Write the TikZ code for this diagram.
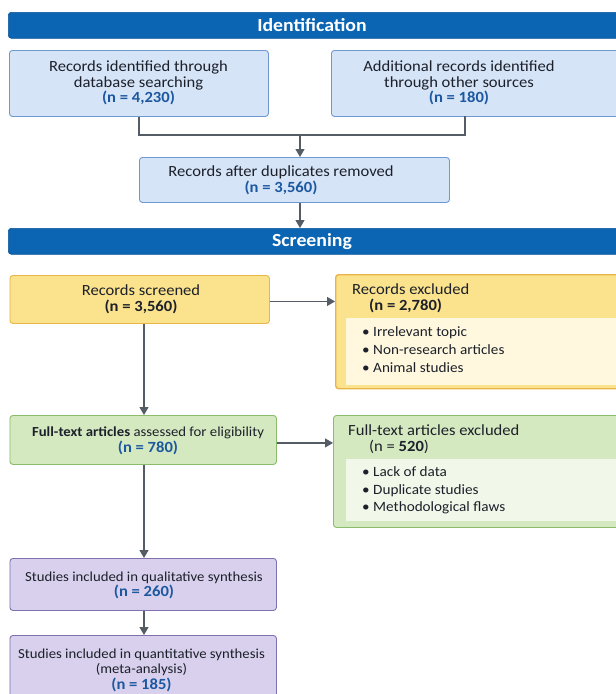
\documentclass[tikz,border=0pt]{standalone}
\usepackage{fontspec}
\setmainfont{Carlito}[FakeStretch=1.07]
\usetikzlibrary{arrows.meta,calc}
\definecolor{banc}{RGB}{12,101,178}
\definecolor{blueF}{RGB}{214,228,247}
\definecolor{blueB}{RGB}{112,152,208}
\definecolor{nblue}{RGB}{28,88,160}
\definecolor{yelF}{RGB}{251,226,140}
\definecolor{yelB}{RGB}{232,182,72}
\definecolor{yelP}{RGB}{255,248,222}
\definecolor{grnF}{RGB}{213,233,193}
\definecolor{grnB}{RGB}{138,188,108}
\definecolor{grnP}{RGB}{241,247,233}
\definecolor{purF}{RGB}{216,208,236}
\definecolor{purB}{RGB}{128,114,174}
\definecolor{arrc}{RGB}{84,92,102}
\definecolor{ink}{RGB}{28,32,42}
\newcommand{\nblu}[1]{{\color{nblue}\bfseries #1}}
\newcommand{\bign}[1]{{\fontsize{15.5}{15.5}\selectfont #1}}
\tikzset{
  boxbase/.style={rounded corners=3pt, line width=0.9pt, inner sep=0pt, anchor=north west},
  bluebox/.style={boxbase, draw=blueB, fill=blueF},
  yelbox/.style={boxbase, draw=yelB, fill=yelF},
  grnbox/.style={boxbase, draw=grnB, fill=grnF},
  purbox/.style={boxbase, draw=purB, fill=purF},
  banner/.style={boxbase, fill=banc, draw=banc!85!black, line width=0.6pt, minimum height=26pt, minimum width=640pt},
  bantxt/.style={text=white, font=\fontsize{18.5}{20}\selectfont\bfseries, inner sep=0pt},
  txt/.style={align=center, text=ink, font=\fontsize{15.5}{15.6}\selectfont, inner sep=0pt},
  stxt/.style={align=center, text=ink, font=\fontsize{13.8}{15.5}\selectfont, inner sep=0pt},
  ltxt/.style={anchor=west, text=ink, font=\fontsize{15.5}{15.6}\selectfont, inner sep=0pt, text height=1.45ex, text depth=0.3ex},
  btxt/.style={ltxt, font=\fontsize{14.2}{15}\selectfont},
  panel/.style={fill=#1, inner sep=0pt, anchor=north west},
  ln/.style={draw=arrc, line width=1.2pt},
  arr/.style={ln, -{Triangle[length=8pt,width=9pt]}},
}
\begin{document}
\begin{tikzpicture}[x=1pt,y=-1pt]
\path[use as bounding box] (0,0) rectangle (616,694);
\clip (0,0) rectangle (616,694);
\fill[white] (0,0) rectangle (616,694);

% Identification
\node[banner] (idb) at (8,12) {};
\node[bantxt] (idt) at (312,25.5) {Identification};

\node[bluebox, minimum width=259pt, minimum height=66pt] (A) at (9,50) {};
\node[txt] (At) at (138.5,83) {Records identified through\\database searching\\\nblu{(n = 4,230)}};
\node[bluebox, minimum width=310pt, minimum height=66pt] (B) at (331,50) {};
\node[txt] (Bt) at (459,83) {Additional records identified\\through other sources\\\nblu{(n = 180)}};

\coordinate (j) at (300,135);
\coordinate (Bs) at (465,116);
\draw[ln] (A.south) |- (j) -| (Bs);

\node[bluebox, minimum width=310pt, minimum height=45pt] (C) at (139,157) {};
\node[txt] (Ct) at (281,180) {Records after duplicates removed\\\nblu{(n = 3,560)}};
\draw[arr] (j) -- (j |- C.north);

% Screening
\node[banner] (scb) at (8,228) {};
\node[bantxt] (sct) at (312,241.5) {Screening};
\draw[arr] (C.south -| j) -- (j |- scb.north);

\coordinate (vx) at (144,0);

\node[yelbox, minimum width=259.5pt, minimum height=48pt] (D) at (9.5,275) {};
\node[txt] (Dt) at (141,299) {Records screened\\\textbf{(n = 3,560)}};

\node[yelbox, line width=1.4pt, minimum width=305pt, minimum height=114pt] (E) at (335,274) {};
\node[panel=yelP, minimum width=300pt, minimum height=67pt] (Ep) at (346,318) {};
\node[ltxt] (Et1) at (352,292) {Records excluded};
\node[ltxt] (Et2) at (369,307.5) {\textbf{(n = 2,780)}};
\node[btxt] (Eb1) at (362,334) {•\ Irrelevant topic};
\node[btxt] (Eb2) at (362,352) {•\ Non-research articles};
\node[btxt] (Eb3) at (362,370) {•\ Animal studies};
\draw[arr] ([yshift=-2pt]D.east) -- ([yshift=-2pt]D.east -| E.west);

\node[grnbox, minimum width=266.5pt, minimum height=49pt] (F) at (9.5,415) {};
\node[stxt] (Ft) at (148,441) {\textbf{Full-text articles} assessed for eligibility\\\bign{\nblu{(n = 780)}}};
\draw[arr] (D.south -| vx) -- (F.north -| vx);

\node[grnbox, minimum width=307pt, minimum height=112pt] (G) at (333,415) {};
\node[panel=grnP, minimum width=300pt, minimum height=62pt] (Gp) at (346,459) {};
\node[ltxt] (Gt1) at (348,433) {Full-text articles excluded};
\node[ltxt] (Gt2) at (369,448.5) {(n = \textbf{520})};
\node[btxt] (Gb1) at (362,474) {•\ Lack of data};
\node[btxt] (Gb2) at (362,492) {•\ Duplicate studies};
\node[btxt] (Gb3) at (362,509) {•\ Methodological flaws};
\draw[arr] ([yshift=-3pt]F.east) -- ([yshift=-3pt]F.east -| G.west);

\node[purbox, minimum width=266.5pt, minimum height=52pt] (H) at (9.5,558) {};
\node[stxt] (Ht) at (144,585.5) {Studies included in qualitative synthesis\\\bign{\nblu{(n = 260)}}};
\draw[arr] (F.south -| vx) -- (H.north -| vx);

\node[purbox, minimum width=266.5pt, minimum height=80pt] (I) at (9.5,635) {};
\node[stxt] (It) at (141.5,670) {Studies included in quantitative synthesis\\(meta-analysis)\\\bign{\nblu{(n = 185)}}};
\draw[arr] (H.south -| vx) -- (I.north -| vx);
\end{tikzpicture}
\end{document}
